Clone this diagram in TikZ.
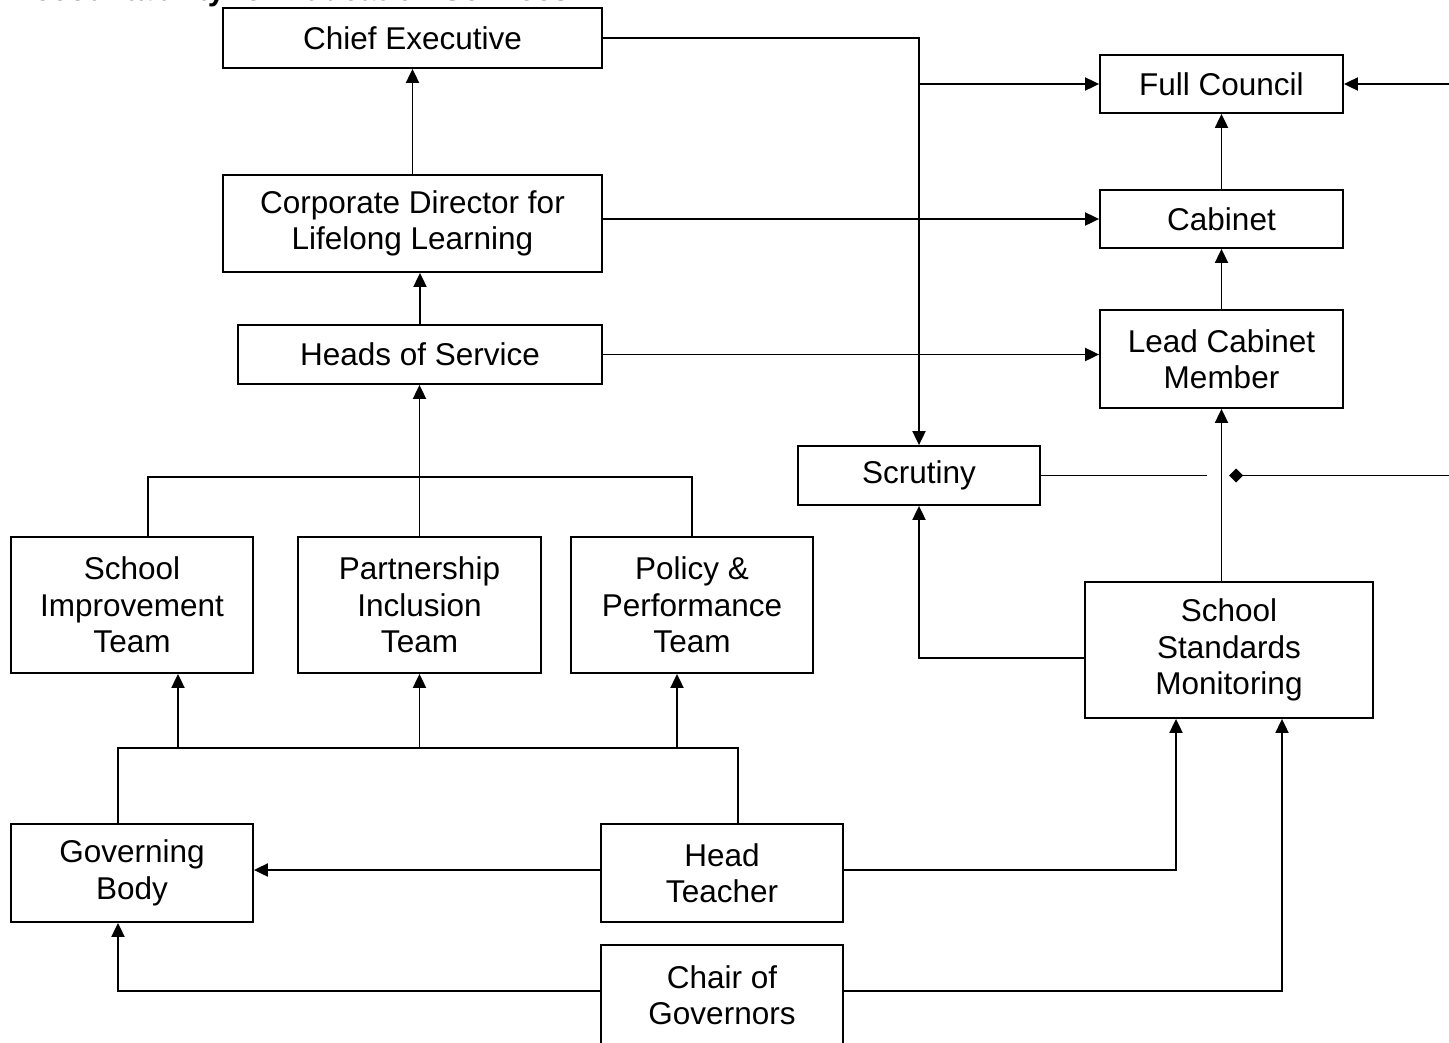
\documentclass[tikz,border=0pt]{standalone}
\usepackage{fontspec}
\setmainfont{Liberation Sans}
\usetikzlibrary{arrows.meta}
\begin{document}
\begin{tikzpicture}[x=1pt,y=-1pt,
  box/.style={draw, line width=1.8pt, inner sep=0pt, align=center, font=\fontsize{31.5}{36.5}\selectfont},
  conn/.style={line width=1.9pt},
  arr/.style={conn, -{Triangle[length=14pt,width=13pt]}},
  dia/.style={conn, {Diamond[length=14pt,width=14pt]}-}]
\useasboundingbox (0,0) rectangle (1449,1042);
\node[anchor=base west, font=\bfseries\fontsize{31}{34}\selectfont] (title) at (8,0) {Accountability for Education Services};
\node[box, minimum width=379, minimum height=60] (ce) at (412.5,38) {Chief Executive};
\node[box, minimum width=243, minimum height=58] (fc) at (1221.5,84) {Full Council};
\node[box, minimum width=379, minimum height=97] (cd) at (412.5,223.5) {Corporate Director for\\Lifelong Learning};
\node[box, minimum width=243, minimum height=58] (cab) at (1221.5,219) {Cabinet};
\node[box, minimum width=364, minimum height=59] (hos) at (420,354.5) {Heads of Service};
\node[box, minimum width=243, minimum height=98] (lcm) at (1221.5,359) {Lead Cabinet\\Member};
\node[box, minimum width=242, minimum height=59] (scr) at (919,475.5) {Scrutiny};
\node[box, minimum width=242, minimum height=136] (sit) at (132,605) {School\\Improvement\\Team};
\node[box, minimum width=243, minimum height=136] (pit) at (419.5,605) {Partnership\\Inclusion\\Team};
\node[box, minimum width=242, minimum height=136] (ppt) at (692,605) {Policy \&\\Performance\\Team};
\node[box, minimum width=288, minimum height=136] (ssm) at (1229,650) {School\\Standards\\Monitoring};
\node[box, minimum width=242, minimum height=98] (gb) at (132,873) {Governing\\Body};
\node[box, minimum width=242, minimum height=98] (ht) at (722,873) {Head\\Teacher};
\node[box, minimum width=242, minimum height=100] (cg) at (722,995) {Chair of\\Governors};
% top right
\draw[arr] (ce.east) -| (scr.north);
\coordinate (j1) at (919,84);
\draw[arr] (j1) -- (fc.west);
\coordinate (r1) at (1449,84);
\draw[arr] (r1) -- (fc.east);
\draw[arr] (cd.east |- cab.west) -- (cab.west);
\draw[arr] (cd.north) -- (ce.south);
\draw[arr] (hos.north) -- (hos.north |- cd.south);
\draw[arr] (hos.east) -- (hos.east -| lcm.west);
\draw[arr] (cab.north) -- (fc.south);
\draw[arr] (lcm.north) -- (cab.south);
\draw[arr] (lcm.south |- ssm.north) -- (lcm.south);
% scrutiny side
\coordinate (s1) at (1207,475.5);
\draw[conn] (scr.east) -- (s1);
\coordinate (r2) at (1449,475.5);
\coordinate (d1) at (1229,475.5);
\draw[dia] (d1) -- (r2);
\draw[arr] (ssm.west |- 0,658) -| (scr.south);
% teams bus
\coordinate (t1) at (148,477);
\coordinate (t2) at (692,477);
\draw[conn] (t1 |- sit.north) -- (t1) -- (t2) -- (ppt.north);
\draw[arr] (pit.north) -- (pit.north |- hos.south);
% lower bus
\coordinate (b1) at (118,748);
\coordinate (b2) at (738,748);
\draw[conn] (b1 |- gb.north) -- (b1) -- (b2) -- (b2 |- ht.north);
\coordinate (a1) at (178,748);
\coordinate (a2) at (419.5,748);
\coordinate (a3) at (677,748);
\draw[arr] (a1) -- (a1 |- sit.south);
\draw[arr] (a2) -- (pit.south);
\draw[arr] (a3) -- (a3 |- ppt.south);
\draw[arr] (ht.west |- 0,870) -- (gb.east |- 0,870);
\coordinate (h1) at (1176,870);
\draw[arr] (ht.east |- h1) -- (h1) -- (h1 |- ssm.south);
\coordinate (c1) at (118,991);
\coordinate (c2) at (1282,991);
\draw[arr] (cg.west |- c1) -- (c1) -- (c1 |- gb.south);
\draw[arr] (cg.east |- c2) -- (c2) -- (c2 |- ssm.south);
\end{tikzpicture}
\end{document}
